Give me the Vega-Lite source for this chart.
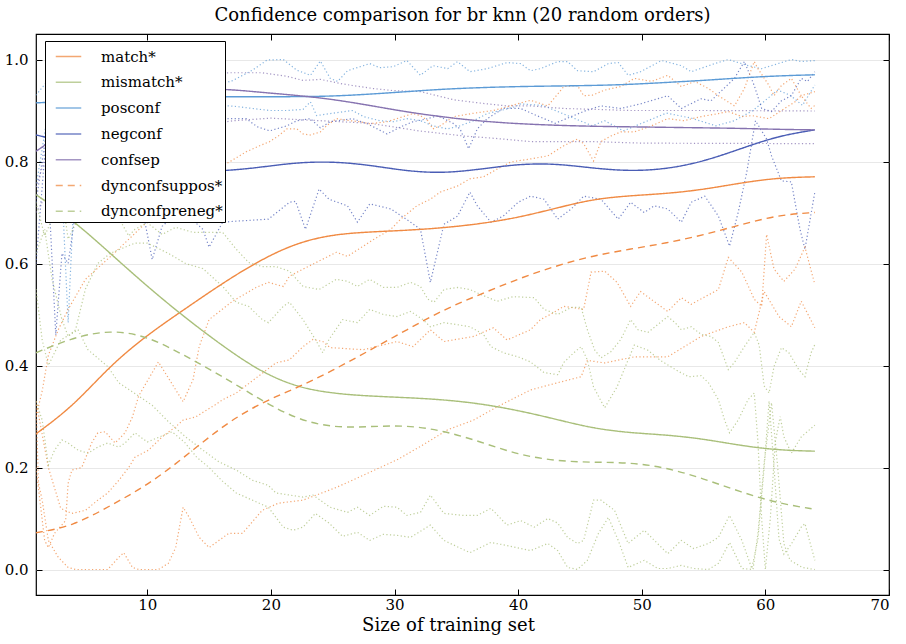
{
  "$schema": "https://vega.github.io/schema/vega-lite/v6.json",
  "width": 853,
  "height": 561,
  "autosize": {"type": "none"},
  "padding": {"left": 36, "top": 34, "right": 17, "bottom": 49},
  "background": "white",
  "title": {"text": "Confidence comparison for br knn (20 random orders)", "font": "DejaVu Serif", "fontSize": 18, "fontWeight": "normal", "color": "black", "offset": 9, "anchor": "middle"},
  "config": {
    "font": "DejaVu Serif",
    "view": {"stroke": "black", "strokeWidth": 1.2},
    "axis": {"labelFont": "DejaVu Serif", "titleFont": "DejaVu Serif", "labelColor": "black", "titleColor": "black", "tickColor": "black", "domain": false},
    "legend": {"labelFont": "DejaVu Serif"}
  },
  "datasets": {
    "main": [
      {"series":"match*","x":1,"y":0.266},{"series":"match*","x":4,"y":0.32},{"series":"match*","x":7,"y":0.4},{"series":"match*","x":10,"y":0.46},{"series":"match*","x":13,"y":0.51},{"series":"match*","x":16,"y":0.56},{"series":"match*","x":19,"y":0.605},{"series":"match*","x":22,"y":0.64},{"series":"match*","x":25,"y":0.657},{"series":"match*","x":28,"y":0.662},{"series":"match*","x":31,"y":0.665},{"series":"match*","x":34,"y":0.67},{"series":"match*","x":37,"y":0.678},{"series":"match*","x":40,"y":0.69},{"series":"match*","x":43,"y":0.708},{"series":"match*","x":46,"y":0.726},{"series":"match*","x":49,"y":0.733},{"series":"match*","x":52,"y":0.737},{"series":"match*","x":55,"y":0.745},{"series":"match*","x":58,"y":0.758},{"series":"match*","x":61,"y":0.768},{"series":"match*","x":64,"y":0.77},
      {"series":"mismatch*","x":1,"y":0.735},{"series":"mismatch*","x":4,"y":0.685},{"series":"mismatch*","x":7,"y":0.62},{"series":"mismatch*","x":10,"y":0.555},{"series":"mismatch*","x":13,"y":0.495},{"series":"mismatch*","x":16,"y":0.44},{"series":"mismatch*","x":19,"y":0.39},{"series":"mismatch*","x":22,"y":0.358},{"series":"mismatch*","x":25,"y":0.345},{"series":"mismatch*","x":28,"y":0.34},{"series":"mismatch*","x":31,"y":0.337},{"series":"mismatch*","x":34,"y":0.333},{"series":"mismatch*","x":37,"y":0.325},{"series":"mismatch*","x":40,"y":0.312},{"series":"mismatch*","x":43,"y":0.295},{"series":"mismatch*","x":46,"y":0.277},{"series":"mismatch*","x":49,"y":0.268},{"series":"mismatch*","x":52,"y":0.264},{"series":"mismatch*","x":55,"y":0.256},{"series":"mismatch*","x":58,"y":0.243},{"series":"mismatch*","x":61,"y":0.234},{"series":"mismatch*","x":64,"y":0.232},
      {"series":"posconf","x":1,"y":0.915},{"series":"posconf","x":4,"y":0.918},{"series":"posconf","x":7,"y":0.922},{"series":"posconf","x":10,"y":0.925},{"series":"posconf","x":13,"y":0.927},{"series":"posconf","x":16,"y":0.927},{"series":"posconf","x":19,"y":0.927},{"series":"posconf","x":22,"y":0.927},{"series":"posconf","x":25,"y":0.928},{"series":"posconf","x":28,"y":0.932},{"series":"posconf","x":31,"y":0.937},{"series":"posconf","x":34,"y":0.942},{"series":"posconf","x":37,"y":0.945},{"series":"posconf","x":40,"y":0.947},{"series":"posconf","x":43,"y":0.948},{"series":"posconf","x":46,"y":0.949},{"series":"posconf","x":49,"y":0.951},{"series":"posconf","x":52,"y":0.955},{"series":"posconf","x":55,"y":0.959},{"series":"posconf","x":58,"y":0.964},{"series":"posconf","x":61,"y":0.968},{"series":"posconf","x":64,"y":0.97},
      {"series":"negconf","x":1,"y":0.852},{"series":"negconf","x":4,"y":0.835},{"series":"negconf","x":7,"y":0.81},{"series":"negconf","x":10,"y":0.79},{"series":"negconf","x":13,"y":0.78},{"series":"negconf","x":16,"y":0.781},{"series":"negconf","x":19,"y":0.788},{"series":"negconf","x":22,"y":0.798},{"series":"negconf","x":25,"y":0.8},{"series":"negconf","x":28,"y":0.793},{"series":"negconf","x":31,"y":0.781},{"series":"negconf","x":34,"y":0.777},{"series":"negconf","x":37,"y":0.785},{"series":"negconf","x":40,"y":0.795},{"series":"negconf","x":43,"y":0.796},{"series":"negconf","x":46,"y":0.787},{"series":"negconf","x":49,"y":0.781},{"series":"negconf","x":52,"y":0.785},{"series":"negconf","x":55,"y":0.8},{"series":"negconf","x":58,"y":0.825},{"series":"negconf","x":61,"y":0.85},{"series":"negconf","x":64,"y":0.862},
      {"series":"confsep","x":1,"y":0.82},{"series":"confsep","x":4,"y":0.87},{"series":"confsep","x":7,"y":0.91},{"series":"confsep","x":10,"y":0.93},{"series":"confsep","x":13,"y":0.94},{"series":"confsep","x":16,"y":0.943},{"series":"confsep","x":19,"y":0.936},{"series":"confsep","x":22,"y":0.93},{"series":"confsep","x":25,"y":0.922},{"series":"confsep","x":28,"y":0.91},{"series":"confsep","x":31,"y":0.897},{"series":"confsep","x":34,"y":0.887},{"series":"confsep","x":37,"y":0.879},{"series":"confsep","x":40,"y":0.874},{"series":"confsep","x":43,"y":0.871},{"series":"confsep","x":46,"y":0.869},{"series":"confsep","x":49,"y":0.868},{"series":"confsep","x":52,"y":0.867},{"series":"confsep","x":55,"y":0.866},{"series":"confsep","x":58,"y":0.865},{"series":"confsep","x":61,"y":0.863},{"series":"confsep","x":64,"y":0.862},
      {"series":"dynconfsuppos*","x":1,"y":0.072},{"series":"dynconfsuppos*","x":4,"y":0.085},{"series":"dynconfsuppos*","x":7,"y":0.125},{"series":"dynconfsuppos*","x":10,"y":0.165},{"series":"dynconfsuppos*","x":13,"y":0.22},{"series":"dynconfsuppos*","x":16,"y":0.28},{"series":"dynconfsuppos*","x":19,"y":0.325},{"series":"dynconfsuppos*","x":22,"y":0.355},{"series":"dynconfsuppos*","x":25,"y":0.39},{"series":"dynconfsuppos*","x":28,"y":0.43},{"series":"dynconfsuppos*","x":31,"y":0.47},{"series":"dynconfsuppos*","x":34,"y":0.51},{"series":"dynconfsuppos*","x":37,"y":0.54},{"series":"dynconfsuppos*","x":40,"y":0.57},{"series":"dynconfsuppos*","x":43,"y":0.595},{"series":"dynconfsuppos*","x":46,"y":0.615},{"series":"dynconfsuppos*","x":49,"y":0.628},{"series":"dynconfsuppos*","x":52,"y":0.64},{"series":"dynconfsuppos*","x":55,"y":0.656},{"series":"dynconfsuppos*","x":58,"y":0.676},{"series":"dynconfsuppos*","x":61,"y":0.695},{"series":"dynconfsuppos*","x":64,"y":0.7},
      {"series":"dynconfpreneg*","x":1,"y":0.425},{"series":"dynconfpreneg*","x":4,"y":0.455},{"series":"dynconfpreneg*","x":7,"y":0.47},{"series":"dynconfpreneg*","x":10,"y":0.458},{"series":"dynconfpreneg*","x":13,"y":0.42},{"series":"dynconfpreneg*","x":16,"y":0.38},{"series":"dynconfpreneg*","x":19,"y":0.335},{"series":"dynconfpreneg*","x":22,"y":0.295},{"series":"dynconfpreneg*","x":25,"y":0.278},{"series":"dynconfpreneg*","x":28,"y":0.28},{"series":"dynconfpreneg*","x":31,"y":0.283},{"series":"dynconfpreneg*","x":34,"y":0.272},{"series":"dynconfpreneg*","x":37,"y":0.25},{"series":"dynconfpreneg*","x":40,"y":0.225},{"series":"dynconfpreneg*","x":43,"y":0.213},{"series":"dynconfpreneg*","x":46,"y":0.21},{"series":"dynconfpreneg*","x":49,"y":0.21},{"series":"dynconfpreneg*","x":52,"y":0.2},{"series":"dynconfpreneg*","x":55,"y":0.178},{"series":"dynconfpreneg*","x":58,"y":0.152},{"series":"dynconfpreneg*","x":61,"y":0.13},{"series":"dynconfpreneg*","x":64,"y":0.118}
    ],
    "dots": [
      {"series":"posconf","line":"pmax","x":1,"y":0.93},{"series":"posconf","line":"pmax","x":2,"y":0.96},{"series":"posconf","line":"pmax","x":4,"y":0.98},{"series":"posconf","line":"pmax","x":7,"y":0.97},{"series":"posconf","line":"pmax","x":10,"y":0.99},{"series":"posconf","line":"pmax","x":13,"y":0.97},{"series":"posconf","line":"pmax","x":16.7,"y":0.956},{"series":"posconf","line":"pmax","x":18.5,"y":0.979},{"series":"posconf","line":"pmax","x":19.7,"y":0.999},{"series":"posconf","line":"pmax","x":21,"y":1.0},{"series":"posconf","line":"pmax","x":22.1,"y":0.979},{"series":"posconf","line":"pmax","x":23.2,"y":0.969},{"series":"posconf","line":"pmax","x":24,"y":0.997},{"series":"posconf","line":"pmax","x":24.8,"y":0.963},{"series":"posconf","line":"pmax","x":25.4,"y":0.957},{"series":"posconf","line":"pmax","x":26.2,"y":0.978},{"series":"posconf","line":"pmax","x":28,"y":0.992},{"series":"posconf","line":"pmax","x":28.8,"y":0.984},{"series":"posconf","line":"pmax","x":29.9,"y":0.986},{"series":"posconf","line":"pmax","x":31,"y":0.998},{"series":"posconf","line":"pmax","x":32.1,"y":0.969},{"series":"posconf","line":"pmax","x":33.1,"y":0.988},{"series":"posconf","line":"pmax","x":34.3,"y":0.982},{"series":"posconf","line":"pmax","x":35.1,"y":0.996},{"series":"posconf","line":"pmax","x":36.1,"y":0.976},{"series":"posconf","line":"pmax","x":37.5,"y":0.982},{"series":"posconf","line":"pmax","x":39.1,"y":0.994},{"series":"posconf","line":"pmax","x":40.2,"y":0.992},{"series":"posconf","line":"pmax","x":41,"y":0.978},{"series":"posconf","line":"pmax","x":41.8,"y":0.982},{"series":"posconf","line":"pmax","x":43.2,"y":0.996},{"series":"posconf","line":"pmax","x":44,"y":0.996},{"series":"posconf","line":"pmax","x":44.8,"y":0.978},{"series":"posconf","line":"pmax","x":46.1,"y":0.976},{"series":"posconf","line":"pmax","x":47.3,"y":0.992},{"series":"posconf","line":"pmax","x":48.1,"y":0.994},{"series":"posconf","line":"pmax","x":48.9,"y":0.969},{"series":"posconf","line":"pmax","x":49.9,"y":0.976},{"series":"posconf","line":"pmax","x":51.6,"y":0.998},{"series":"posconf","line":"pmax","x":53.2,"y":0.988},{"series":"posconf","line":"pmax","x":54,"y":0.976},{"series":"posconf","line":"pmax","x":55.9,"y":0.992},{"series":"posconf","line":"pmax","x":57,"y":1.0},{"series":"posconf","line":"pmax","x":58.6,"y":0.988},{"series":"posconf","line":"pmax","x":59.7,"y":0.982},{"series":"posconf","line":"pmax","x":62.1,"y":1.0},{"series":"posconf","line":"pmax","x":62.9,"y":0.996},{"series":"posconf","line":"pmax","x":64,"y":0.998},
      {"series":"posconf","line":"pmin","x":1,"y":0.75},{"series":"posconf","line":"pmin","x":2,"y":0.9},{"series":"posconf","line":"pmin","x":3,"y":0.8},{"series":"posconf","line":"pmin","x":3.6,"y":0.484},{"series":"posconf","line":"pmin","x":4.2,"y":0.8},{"series":"posconf","line":"pmin","x":5,"y":0.9},{"series":"posconf","line":"pmin","x":7,"y":0.91},{"series":"posconf","line":"pmin","x":10,"y":0.9},{"series":"posconf","line":"pmin","x":13,"y":0.91},{"series":"posconf","line":"pmin","x":16.7,"y":0.909},{"series":"posconf","line":"pmin","x":17.5,"y":0.907},{"series":"posconf","line":"pmin","x":18.5,"y":0.904},{"series":"posconf","line":"pmin","x":19.9,"y":0.9},{"series":"posconf","line":"pmin","x":21.3,"y":0.9},{"series":"posconf","line":"pmin","x":22.6,"y":0.902},{"series":"posconf","line":"pmin","x":23.2,"y":0.917},{"series":"posconf","line":"pmin","x":23.7,"y":0.89},{"series":"posconf","line":"pmin","x":24.8,"y":0.894},{"series":"posconf","line":"pmin","x":26.6,"y":0.9},{"series":"posconf","line":"pmin","x":27.5,"y":0.888},{"series":"posconf","line":"pmin","x":28.8,"y":0.88},{"series":"posconf","line":"pmin","x":29.9,"y":0.878},{"series":"posconf","line":"pmin","x":31,"y":0.884},{"series":"posconf","line":"pmin","x":32.1,"y":0.88},{"series":"posconf","line":"pmin","x":33.1,"y":0.87},{"series":"posconf","line":"pmin","x":34.3,"y":0.864},{"series":"posconf","line":"pmin","x":35.3,"y":0.87},{"series":"posconf","line":"pmin","x":36.4,"y":0.88},{"series":"posconf","line":"pmin","x":37.5,"y":0.894},{"series":"posconf","line":"pmin","x":38.6,"y":0.9},{"series":"posconf","line":"pmin","x":39.7,"y":0.907},{"series":"posconf","line":"pmin","x":40.2,"y":0.913},{"series":"posconf","line":"pmin","x":42,"y":0.91},{"series":"posconf","line":"pmin","x":44,"y":0.89},{"series":"posconf","line":"pmin","x":46,"y":0.87},{"series":"posconf","line":"pmin","x":47,"y":0.88},{"series":"posconf","line":"pmin","x":48.5,"y":0.86},{"series":"posconf","line":"pmin","x":50,"y":0.875},{"series":"posconf","line":"pmin","x":52,"y":0.895},{"series":"posconf","line":"pmin","x":54,"y":0.885},{"series":"posconf","line":"pmin","x":56,"y":0.87},{"series":"posconf","line":"pmin","x":57.5,"y":0.88},{"series":"posconf","line":"pmin","x":59,"y":0.9},{"series":"posconf","line":"pmin","x":60,"y":0.92},{"series":"posconf","line":"pmin","x":61,"y":0.94},{"series":"posconf","line":"pmin","x":62,"y":0.93},{"series":"posconf","line":"pmin","x":63,"y":0.91},{"series":"posconf","line":"pmin","x":64,"y":0.95},
      {"series":"negconf","line":"nmax","x":1,"y":0.6},{"series":"negconf","line":"nmax","x":2,"y":0.9},{"series":"negconf","line":"nmax","x":3,"y":0.95},{"series":"negconf","line":"nmax","x":5,"y":0.9},{"series":"negconf","line":"nmax","x":8,"y":0.89},{"series":"negconf","line":"nmax","x":12,"y":0.88},{"series":"negconf","line":"nmax","x":16.7,"y":0.884},{"series":"negconf","line":"nmax","x":18,"y":0.884},{"series":"negconf","line":"nmax","x":18.9,"y":0.868},{"series":"negconf","line":"nmax","x":19.9,"y":0.86},{"series":"negconf","line":"nmax","x":21.3,"y":0.87},{"series":"negconf","line":"nmax","x":22.1,"y":0.88},{"series":"negconf","line":"nmax","x":23.2,"y":0.884},{"series":"negconf","line":"nmax","x":24,"y":0.866},{"series":"negconf","line":"nmax","x":24.8,"y":0.878},{"series":"negconf","line":"nmax","x":26.6,"y":0.884},{"series":"negconf","line":"nmax","x":27.8,"y":0.874},{"series":"negconf","line":"nmax","x":28.6,"y":0.864},{"series":"negconf","line":"nmax","x":29.4,"y":0.854},{"series":"negconf","line":"nmax","x":30.5,"y":0.868},{"series":"negconf","line":"nmax","x":31.5,"y":0.878},{"series":"negconf","line":"nmax","x":32.7,"y":0.884},{"series":"negconf","line":"nmax","x":33.5,"y":0.89},{"series":"negconf","line":"nmax","x":34.8,"y":0.874},{"series":"negconf","line":"nmax","x":35.3,"y":0.864},{"series":"negconf","line":"nmax","x":36,"y":0.825},{"series":"negconf","line":"nmax","x":36.7,"y":0.864},{"series":"negconf","line":"nmax","x":37.5,"y":0.884},{"series":"negconf","line":"nmax","x":38.8,"y":0.904},{"series":"negconf","line":"nmax","x":40.2,"y":0.904},{"series":"negconf","line":"nmax","x":41.5,"y":0.89},{"series":"negconf","line":"nmax","x":43,"y":0.875},{"series":"negconf","line":"nmax","x":44.5,"y":0.89},{"series":"negconf","line":"nmax","x":45.5,"y":0.9},{"series":"negconf","line":"nmax","x":46.7,"y":0.909},{"series":"negconf","line":"nmax","x":48.3,"y":0.904},{"series":"negconf","line":"nmax","x":49.9,"y":0.913},{"series":"negconf","line":"nmax","x":52.1,"y":0.929},{"series":"negconf","line":"nmax","x":53.2,"y":0.904},{"series":"negconf","line":"nmax","x":54.8,"y":0.923},{"series":"negconf","line":"nmax","x":55.6,"y":0.919},{"series":"negconf","line":"nmax","x":56.2,"y":0.933},{"series":"negconf","line":"nmax","x":57.5,"y":0.963},{"series":"negconf","line":"nmax","x":58.3,"y":0.996},{"series":"negconf","line":"nmax","x":59.1,"y":0.949},{"series":"negconf","line":"nmax","x":59.7,"y":0.904},{"series":"negconf","line":"nmax","x":60.5,"y":0.898},{"series":"negconf","line":"nmax","x":61.3,"y":0.919},{"series":"negconf","line":"nmax","x":62.1,"y":0.929},{"series":"negconf","line":"nmax","x":62.9,"y":0.963},{"series":"negconf","line":"nmax","x":63.4,"y":0.957},{"series":"negconf","line":"nmax","x":64,"y":0.976},
      {"series":"negconf","line":"nmin","x":1,"y":0.72},{"series":"negconf","line":"nmin","x":1.8,"y":0.85},{"series":"negconf","line":"nmin","x":2.6,"y":0.46},{"series":"negconf","line":"nmin","x":3.1,"y":0.62},{"series":"negconf","line":"nmin","x":3.6,"y":0.6},{"series":"negconf","line":"nmin","x":4.2,"y":0.7},{"series":"negconf","line":"nmin","x":5,"y":0.8},{"series":"negconf","line":"nmin","x":6,"y":0.78},{"series":"negconf","line":"nmin","x":8,"y":0.76},{"series":"negconf","line":"nmin","x":9.5,"y":0.72},{"series":"negconf","line":"nmin","x":10.4,"y":0.608},{"series":"negconf","line":"nmin","x":11.2,"y":0.673},{"series":"negconf","line":"nmin","x":12,"y":0.69},{"series":"negconf","line":"nmin","x":13,"y":0.7},{"series":"negconf","line":"nmin","x":14.5,"y":0.667},{"series":"negconf","line":"nmin","x":15,"y":0.632},{"series":"negconf","line":"nmin","x":16.1,"y":0.681},{"series":"negconf","line":"nmin","x":17.2,"y":0.683},{"series":"negconf","line":"nmin","x":19.8,"y":0.687},{"series":"negconf","line":"nmin","x":21.5,"y":0.72},{"series":"negconf","line":"nmin","x":22,"y":0.722},{"series":"negconf","line":"nmin","x":22.8,"y":0.667},{"series":"negconf","line":"nmin","x":23.9,"y":0.746},{"series":"negconf","line":"nmin","x":24.7,"y":0.726},{"series":"negconf","line":"nmin","x":26.2,"y":0.713},{"series":"negconf","line":"nmin","x":27,"y":0.681},{"series":"negconf","line":"nmin","x":28,"y":0.717},{"series":"negconf","line":"nmin","x":29.7,"y":0.707},{"series":"negconf","line":"nmin","x":31.3,"y":0.681},{"series":"negconf","line":"nmin","x":32.1,"y":0.667},{"series":"negconf","line":"nmin","x":32.9,"y":0.563},{"series":"negconf","line":"nmin","x":34,"y":0.677},{"series":"negconf","line":"nmin","x":35.1,"y":0.693},{"series":"negconf","line":"nmin","x":36.1,"y":0.74},{"series":"negconf","line":"nmin","x":36.7,"y":0.713},{"series":"negconf","line":"nmin","x":37.8,"y":0.681},{"series":"negconf","line":"nmin","x":38.8,"y":0.693},{"series":"negconf","line":"nmin","x":40,"y":0.72},{"series":"negconf","line":"nmin","x":41,"y":0.732},{"series":"negconf","line":"nmin","x":42.1,"y":0.726},{"series":"negconf","line":"nmin","x":43.2,"y":0.687},{"series":"negconf","line":"nmin","x":44.3,"y":0.707},{"series":"negconf","line":"nmin","x":45.3,"y":0.732},{"series":"negconf","line":"nmin","x":46.7,"y":0.726},{"series":"negconf","line":"nmin","x":48.1,"y":0.687},{"series":"negconf","line":"nmin","x":49.1,"y":0.72},{"series":"negconf","line":"nmin","x":50.2,"y":0.7},{"series":"negconf","line":"nmin","x":51,"y":0.713},{"series":"negconf","line":"nmin","x":52.1,"y":0.707},{"series":"negconf","line":"nmin","x":53.2,"y":0.681},{"series":"negconf","line":"nmin","x":54,"y":0.72},{"series":"negconf","line":"nmin","x":55.1,"y":0.732},{"series":"negconf","line":"nmin","x":56.2,"y":0.693},{"series":"negconf","line":"nmin","x":57.1,"y":0.634},{"series":"negconf","line":"nmin","x":57.8,"y":0.7},{"series":"negconf","line":"nmin","x":58.5,"y":0.78},{"series":"negconf","line":"nmin","x":59.2,"y":0.88},{"series":"negconf","line":"nmin","x":60.1,"y":0.844},{"series":"negconf","line":"nmin","x":60.5,"y":0.811},{"series":"negconf","line":"nmin","x":61.3,"y":0.762},{"series":"negconf","line":"nmin","x":62.1,"y":0.76},{"series":"negconf","line":"nmin","x":62.4,"y":0.72},{"series":"negconf","line":"nmin","x":62.8,"y":0.667},{"series":"negconf","line":"nmin","x":63.2,"y":0.628},{"series":"negconf","line":"nmin","x":64,"y":0.74},
      {"series":"confsep","line":"cmax","x":1,"y":0.75},{"series":"confsep","line":"cmax","x":3,"y":0.9},{"series":"confsep","line":"cmax","x":6,"y":0.95},{"series":"confsep","line":"cmax","x":10,"y":0.97},{"series":"confsep","line":"cmax","x":16.7,"y":0.974},{"series":"confsep","line":"cmax","x":19.3,"y":0.974},{"series":"confsep","line":"cmax","x":21.3,"y":0.967},{"series":"confsep","line":"cmax","x":22.6,"y":0.959},{"series":"confsep","line":"cmax","x":24,"y":0.961},{"series":"confsep","line":"cmax","x":25.6,"y":0.953},{"series":"confsep","line":"cmax","x":26.6,"y":0.949},{"series":"confsep","line":"cmax","x":28.3,"y":0.943},{"series":"confsep","line":"cmax","x":29.9,"y":0.939},{"series":"confsep","line":"cmax","x":32.1,"y":0.937},{"series":"confsep","line":"cmax","x":34.8,"y":0.921},{"series":"confsep","line":"cmax","x":36.1,"y":0.917},{"series":"confsep","line":"cmax","x":37.5,"y":0.913},{"series":"confsep","line":"cmax","x":39.1,"y":0.909},{"series":"confsep","line":"cmax","x":41,"y":0.909},{"series":"confsep","line":"cmax","x":43.7,"y":0.904},{"series":"confsep","line":"cmax","x":46.5,"y":0.902},{"series":"confsep","line":"cmax","x":49.1,"y":0.9},{"series":"confsep","line":"cmax","x":55,"y":0.9},{"series":"confsep","line":"cmax","x":64,"y":0.899},
      {"series":"confsep","line":"cmin","x":1,"y":0.7},{"series":"confsep","line":"cmin","x":3,"y":0.78},{"series":"confsep","line":"cmin","x":6,"y":0.82},{"series":"confsep","line":"cmin","x":10,"y":0.85},{"series":"confsep","line":"cmin","x":14,"y":0.87},{"series":"confsep","line":"cmin","x":17,"y":0.88},{"series":"confsep","line":"cmin","x":20,"y":0.885},{"series":"confsep","line":"cmin","x":24,"y":0.88},{"series":"confsep","line":"cmin","x":28,"y":0.875},{"series":"confsep","line":"cmin","x":32,"y":0.86},{"series":"confsep","line":"cmin","x":35.6,"y":0.85},{"series":"confsep","line":"cmin","x":38.3,"y":0.845},{"series":"confsep","line":"cmin","x":41,"y":0.839},{"series":"confsep","line":"cmin","x":46,"y":0.839},{"series":"confsep","line":"cmin","x":50,"y":0.836},{"series":"confsep","line":"cmin","x":64,"y":0.835},
      {"series":"match*","line":"o1","x":1,"y":0.3},{"series":"match*","line":"o1","x":1.5,"y":0.35},{"series":"match*","line":"o1","x":2,"y":0.42},{"series":"match*","line":"o1","x":2.8,"y":0.47},{"series":"match*","line":"o1","x":3.6,"y":0.51},{"series":"match*","line":"o1","x":5,"y":0.569},{"series":"match*","line":"o1","x":7.4,"y":0.622},{"series":"match*","line":"o1","x":9.6,"y":0.673},{"series":"match*","line":"o1","x":12,"y":0.72},{"series":"match*","line":"o1","x":14,"y":0.76},{"series":"match*","line":"o1","x":16.7,"y":0.8},{"series":"match*","line":"o1","x":18,"y":0.819},{"series":"match*","line":"o1","x":19.1,"y":0.831},{"series":"match*","line":"o1","x":19.9,"y":0.839},{"series":"match*","line":"o1","x":20.6,"y":0.85},{"series":"match*","line":"o1","x":21.3,"y":0.864},{"series":"match*","line":"o1","x":22.1,"y":0.864},{"series":"match*","line":"o1","x":22.6,"y":0.854},{"series":"match*","line":"o1","x":23.2,"y":0.852},{"series":"match*","line":"o1","x":24,"y":0.858},{"series":"match*","line":"o1","x":24.5,"y":0.87},{"series":"match*","line":"o1","x":25.3,"y":0.884},{"series":"match*","line":"o1","x":26.4,"y":0.88},{"series":"match*","line":"o1","x":27.2,"y":0.878},{"series":"match*","line":"o1","x":28,"y":0.874},{"series":"match*","line":"o1","x":29.4,"y":0.878},{"series":"match*","line":"o1","x":30.7,"y":0.888},{"series":"match*","line":"o1","x":31.5,"y":0.894},{"series":"match*","line":"o1","x":32.1,"y":0.89},{"series":"match*","line":"o1","x":32.7,"y":0.88},{"series":"match*","line":"o1","x":33.1,"y":0.864},{"series":"match*","line":"o1","x":33.7,"y":0.87},{"series":"match*","line":"o1","x":34.3,"y":0.88},{"series":"match*","line":"o1","x":34.8,"y":0.888},{"series":"match*","line":"o1","x":36.5,"y":0.895},{"series":"match*","line":"o1","x":38,"y":0.9},{"series":"match*","line":"o1","x":39.5,"y":0.91},{"series":"match*","line":"o1","x":41,"y":0.92},{"series":"match*","line":"o1","x":42.4,"y":0.909},{"series":"match*","line":"o1","x":43.7,"y":0.947},{"series":"match*","line":"o1","x":44.8,"y":0.949},{"series":"match*","line":"o1","x":45.3,"y":0.929},{"series":"match*","line":"o1","x":46,"y":0.93},{"series":"match*","line":"o1","x":47,"y":0.94},{"series":"match*","line":"o1","x":48.3,"y":0.947},{"series":"match*","line":"o1","x":49.4,"y":0.963},{"series":"match*","line":"o1","x":50.8,"y":0.957},{"series":"match*","line":"o1","x":52.1,"y":0.969},{"series":"match*","line":"o1","x":53.2,"y":0.947},{"series":"match*","line":"o1","x":54.3,"y":0.957},{"series":"match*","line":"o1","x":55.4,"y":0.943},{"series":"match*","line":"o1","x":56.2,"y":0.929},{"series":"match*","line":"o1","x":57.5,"y":0.909},{"series":"match*","line":"o1","x":58.3,"y":0.943},{"series":"match*","line":"o1","x":59.1,"y":0.996},{"series":"match*","line":"o1","x":59.4,"y":0.982},{"series":"match*","line":"o1","x":60.3,"y":0.949},{"series":"match*","line":"o1","x":60.7,"y":0.929},{"series":"match*","line":"o1","x":61.3,"y":0.949},{"series":"match*","line":"o1","x":62.1,"y":0.963},{"series":"match*","line":"o1","x":62.9,"y":0.929},{"series":"match*","line":"o1","x":64,"y":0.937},
      {"series":"dynconfsuppos*","line":"o2","x":1,"y":0.2},{"series":"dynconfsuppos*","line":"o2","x":1.7,"y":0.057},{"series":"dynconfsuppos*","line":"o2","x":2,"y":0.043},{"series":"dynconfsuppos*","line":"o2","x":2.5,"y":0.071},{"series":"dynconfsuppos*","line":"o2","x":3.4,"y":0.096},{"series":"dynconfsuppos*","line":"o2","x":3.6,"y":0.169},{"series":"dynconfsuppos*","line":"o2","x":3.9,"y":0.195},{"series":"dynconfsuppos*","line":"o2","x":4.7,"y":0.2},{"series":"dynconfsuppos*","line":"o2","x":5.5,"y":0.248},{"series":"dynconfsuppos*","line":"o2","x":6,"y":0.268},{"series":"dynconfsuppos*","line":"o2","x":6.6,"y":0.27},{"series":"dynconfsuppos*","line":"o2","x":7.4,"y":0.248},{"series":"dynconfsuppos*","line":"o2","x":8.2,"y":0.268},{"series":"dynconfsuppos*","line":"o2","x":8.8,"y":0.299},{"series":"dynconfsuppos*","line":"o2","x":9.3,"y":0.34},{"series":"dynconfsuppos*","line":"o2","x":10.9,"y":0.407},{"series":"dynconfsuppos*","line":"o2","x":12.9,"y":0.329},{"series":"dynconfsuppos*","line":"o2","x":13.7,"y":0.372},{"series":"dynconfsuppos*","line":"o2","x":14.2,"y":0.437},{"series":"dynconfsuppos*","line":"o2","x":15,"y":0.49},{"series":"dynconfsuppos*","line":"o2","x":16.9,"y":0.526},{"series":"dynconfsuppos*","line":"o2","x":18.8,"y":0.553},{"series":"dynconfsuppos*","line":"o2","x":19.8,"y":0.563},{"series":"dynconfsuppos*","line":"o2","x":21,"y":0.555},{"series":"dynconfsuppos*","line":"o2","x":21.5,"y":0.575},{"series":"dynconfsuppos*","line":"o2","x":22.6,"y":0.589},{"series":"dynconfsuppos*","line":"o2","x":25.3,"y":0.622},{"series":"dynconfsuppos*","line":"o2","x":26.2,"y":0.614},{"series":"dynconfsuppos*","line":"o2","x":28.3,"y":0.647},{"series":"dynconfsuppos*","line":"o2","x":29.7,"y":0.667},{"series":"dynconfsuppos*","line":"o2","x":30.5,"y":0.687},{"series":"dynconfsuppos*","line":"o2","x":31.8,"y":0.713},{"series":"dynconfsuppos*","line":"o2","x":32.9,"y":0.726},{"series":"dynconfsuppos*","line":"o2","x":33.7,"y":0.74},{"series":"dynconfsuppos*","line":"o2","x":35.1,"y":0.752},{"series":"dynconfsuppos*","line":"o2","x":36.1,"y":0.766},{"series":"dynconfsuppos*","line":"o2","x":37.2,"y":0.77},{"series":"dynconfsuppos*","line":"o2","x":38.3,"y":0.785},{"series":"dynconfsuppos*","line":"o2","x":39.4,"y":0.799},{"series":"dynconfsuppos*","line":"o2","x":41,"y":0.805},{"series":"dynconfsuppos*","line":"o2","x":42.4,"y":0.811},{"series":"dynconfsuppos*","line":"o2","x":43.7,"y":0.831},{"series":"dynconfsuppos*","line":"o2","x":44.8,"y":0.844},{"series":"dynconfsuppos*","line":"o2","x":45.3,"y":0.835},{"series":"dynconfsuppos*","line":"o2","x":46.1,"y":0.801},{"series":"dynconfsuppos*","line":"o2","x":46.7,"y":0.839},{"series":"dynconfsuppos*","line":"o2","x":47.5,"y":0.85},{"series":"dynconfsuppos*","line":"o2","x":48.3,"y":0.858},{"series":"dynconfsuppos*","line":"o2","x":49.4,"y":0.858},{"series":"dynconfsuppos*","line":"o2","x":50.8,"y":0.87},{"series":"dynconfsuppos*","line":"o2","x":52.1,"y":0.884},{"series":"dynconfsuppos*","line":"o2","x":53.4,"y":0.88},{"series":"dynconfsuppos*","line":"o2","x":54.8,"y":0.888},{"series":"dynconfsuppos*","line":"o2","x":56.2,"y":0.894},{"series":"dynconfsuppos*","line":"o2","x":57,"y":0.898},{"series":"dynconfsuppos*","line":"o2","x":58.1,"y":0.888},{"series":"dynconfsuppos*","line":"o2","x":58.9,"y":0.89},{"series":"dynconfsuppos*","line":"o2","x":60.3,"y":0.884},{"series":"dynconfsuppos*","line":"o2","x":61.3,"y":0.9},{"series":"dynconfsuppos*","line":"o2","x":62.4,"y":0.917},{"series":"dynconfsuppos*","line":"o2","x":62.9,"y":0.929},{"series":"dynconfsuppos*","line":"o2","x":63.7,"y":0.904},{"series":"dynconfsuppos*","line":"o2","x":64,"y":0.91},
      {"series":"match*","line":"o3","x":1,"y":0.33},{"series":"match*","line":"o3","x":2,"y":0.2},{"series":"match*","line":"o3","x":3,"y":0.12},{"series":"match*","line":"o3","x":3.9,"y":0.11},{"series":"match*","line":"o3","x":5,"y":0.116},{"series":"match*","line":"o3","x":6,"y":0.136},{"series":"match*","line":"o3","x":6.8,"y":0.15},{"series":"match*","line":"o3","x":7.7,"y":0.175},{"series":"match*","line":"o3","x":8.5,"y":0.2},{"series":"match*","line":"o3","x":9,"y":0.22},{"series":"match*","line":"o3","x":10.1,"y":0.234},{"series":"match*","line":"o3","x":11.2,"y":0.26},{"series":"match*","line":"o3","x":12.3,"y":0.28},{"series":"match*","line":"o3","x":12.9,"y":0.293},{"series":"match*","line":"o3","x":13.9,"y":0.299},{"series":"match*","line":"o3","x":15.5,"y":0.323},{"series":"match*","line":"o3","x":16.1,"y":0.333},{"series":"match*","line":"o3","x":17.2,"y":0.346},{"series":"match*","line":"o3","x":18.5,"y":0.37},{"series":"match*","line":"o3","x":20.4,"y":0.405},{"series":"match*","line":"o3","x":21.5,"y":0.411},{"series":"match*","line":"o3","x":22.6,"y":0.437},{"series":"match*","line":"o3","x":23.4,"y":0.451},{"series":"match*","line":"o3","x":24.2,"y":0.447},{"series":"match*","line":"o3","x":24.8,"y":0.435},{"series":"match*","line":"o3","x":27.5,"y":0.431},{"series":"match*","line":"o3","x":30.2,"y":0.447},{"series":"match*","line":"o3","x":31.5,"y":0.437},{"series":"match*","line":"o3","x":32.9,"y":0.47},{"series":"match*","line":"o3","x":34,"y":0.447},{"series":"match*","line":"o3","x":36.4,"y":0.457},{"series":"match*","line":"o3","x":38,"y":0.474},{"series":"match*","line":"o3","x":39.1,"y":0.45},{"series":"match*","line":"o3","x":41,"y":0.47},{"series":"match*","line":"o3","x":41.8,"y":0.49},{"series":"match*","line":"o3","x":42.6,"y":0.5},{"series":"match*","line":"o3","x":43.7,"y":0.516},{"series":"match*","line":"o3","x":45.3,"y":0.51},{"series":"match*","line":"o3","x":45.9,"y":0.583},{"series":"match*","line":"o3","x":47,"y":0.585},{"series":"match*","line":"o3","x":48,"y":0.563},{"series":"match*","line":"o3","x":49.1,"y":0.516},{"series":"match*","line":"o3","x":49.9,"y":0.545},{"series":"match*","line":"o3","x":52.1,"y":0.506},{"series":"match*","line":"o3","x":53.2,"y":0.533},{"series":"match*","line":"o3","x":54,"y":0.52},{"series":"match*","line":"o3","x":56.2,"y":0.549},{"series":"match*","line":"o3","x":57,"y":0.612},{"series":"match*","line":"o3","x":58.1,"y":0.583},{"series":"match*","line":"o3","x":59.1,"y":0.53},{"series":"match*","line":"o3","x":59.7,"y":0.516},{"series":"match*","line":"o3","x":60.1,"y":0.657},{"series":"match*","line":"o3","x":60.7,"y":0.589},{"series":"match*","line":"o3","x":61.5,"y":0.565},{"series":"match*","line":"o3","x":62.4,"y":0.589},{"series":"match*","line":"o3","x":63.2,"y":0.632},{"series":"match*","line":"o3","x":64,"y":0.559},
      {"series":"dynconfsuppos*","line":"o4","x":1,"y":0.33},{"series":"dynconfsuppos*","line":"o4","x":1.2,"y":0.169},{"series":"dynconfsuppos*","line":"o4","x":1.5,"y":0.136},{"series":"dynconfsuppos*","line":"o4","x":2,"y":0.057},{"series":"dynconfsuppos*","line":"o4","x":2.8,"y":0.024},{"series":"dynconfsuppos*","line":"o4","x":3.6,"y":0.004},{"series":"dynconfsuppos*","line":"o4","x":4.2,"y":0},{"series":"dynconfsuppos*","line":"o4","x":6.8,"y":0},{"series":"dynconfsuppos*","line":"o4","x":7.7,"y":0.024},{"series":"dynconfsuppos*","line":"o4","x":8.1,"y":0.033},{"series":"dynconfsuppos*","line":"o4","x":8.8,"y":0.004},{"series":"dynconfsuppos*","line":"o4","x":9.3,"y":0},{"series":"dynconfsuppos*","line":"o4","x":10.9,"y":0},{"series":"dynconfsuppos*","line":"o4","x":11.7,"y":0.012},{"series":"dynconfsuppos*","line":"o4","x":12.3,"y":0.043},{"series":"dynconfsuppos*","line":"o4","x":12.9,"y":0.122},{"series":"dynconfsuppos*","line":"o4","x":13.4,"y":0.102},{"series":"dynconfsuppos*","line":"o4","x":14.2,"y":0.063},{"series":"dynconfsuppos*","line":"o4","x":15,"y":0.043},{"series":"dynconfsuppos*","line":"o4","x":16.6,"y":0.071},{"series":"dynconfsuppos*","line":"o4","x":17.7,"y":0.071},{"series":"dynconfsuppos*","line":"o4","x":19.3,"y":0.116},{"series":"dynconfsuppos*","line":"o4","x":20.6,"y":0.13},{"series":"dynconfsuppos*","line":"o4","x":22.6,"y":0.136},{"series":"dynconfsuppos*","line":"o4","x":25.3,"y":0.161},{"series":"dynconfsuppos*","line":"o4","x":27.5,"y":0.185},{"series":"dynconfsuppos*","line":"o4","x":30.2,"y":0.215},{"series":"dynconfsuppos*","line":"o4","x":32,"y":0.24},{"series":"dynconfsuppos*","line":"o4","x":34.3,"y":0.274},{"series":"dynconfsuppos*","line":"o4","x":36.4,"y":0.293},{"series":"dynconfsuppos*","line":"o4","x":38.3,"y":0.319},{"series":"dynconfsuppos*","line":"o4","x":41,"y":0.352},{"series":"dynconfsuppos*","line":"o4","x":43,"y":0.365},{"series":"dynconfsuppos*","line":"o4","x":45.1,"y":0.378},{"series":"dynconfsuppos*","line":"o4","x":45.6,"y":0.41},{"series":"dynconfsuppos*","line":"o4","x":47,"y":0.405},{"series":"dynconfsuppos*","line":"o4","x":49.4,"y":0.417},{"series":"dynconfsuppos*","line":"o4","x":52.1,"y":0.417},{"series":"dynconfsuppos*","line":"o4","x":54.8,"y":0.457},{"series":"dynconfsuppos*","line":"o4","x":57,"y":0.476},{"series":"dynconfsuppos*","line":"o4","x":58.3,"y":0.484},{"series":"dynconfsuppos*","line":"o4","x":59.1,"y":0.465},{"series":"dynconfsuppos*","line":"o4","x":59.9,"y":0.545},{"series":"dynconfsuppos*","line":"o4","x":61.1,"y":0.496},{"series":"dynconfsuppos*","line":"o4","x":62.1,"y":0.476},{"series":"dynconfsuppos*","line":"o4","x":62.9,"y":0.526},{"series":"dynconfsuppos*","line":"o4","x":64,"y":0.474},
      {"series":"mismatch*","line":"g1","x":1,"y":0.72},{"series":"mismatch*","line":"g1","x":1.7,"y":0.654},{"series":"mismatch*","line":"g1","x":2.3,"y":0.687},{"series":"mismatch*","line":"g1","x":3,"y":0.75},{"series":"mismatch*","line":"g1","x":3.6,"y":0.648},{"series":"mismatch*","line":"g1","x":4.4,"y":0.687},{"series":"mismatch*","line":"g1","x":5.5,"y":0.74},{"series":"mismatch*","line":"g1","x":7,"y":0.72},{"series":"mismatch*","line":"g1","x":8.5,"y":0.654},{"series":"mismatch*","line":"g1","x":9,"y":0.667},{"series":"mismatch*","line":"g1","x":10,"y":0.68},{"series":"mismatch*","line":"g1","x":11.2,"y":0.657},{"series":"mismatch*","line":"g1","x":12.3,"y":0.671},{"series":"mismatch*","line":"g1","x":13.7,"y":0.661},{"series":"mismatch*","line":"g1","x":16.1,"y":0.661},{"series":"mismatch*","line":"g1","x":17.2,"y":0.628},{"series":"mismatch*","line":"g1","x":18.2,"y":0.602},{"series":"mismatch*","line":"g1","x":19.3,"y":0.594},{"series":"mismatch*","line":"g1","x":20.4,"y":0.594},{"series":"mismatch*","line":"g1","x":21.5,"y":0.585},{"series":"mismatch*","line":"g1","x":22.6,"y":0.555},{"series":"mismatch*","line":"g1","x":23.9,"y":0.549},{"series":"mismatch*","line":"g1","x":25.3,"y":0.569},{"series":"mismatch*","line":"g1","x":26.2,"y":0.565},{"series":"mismatch*","line":"g1","x":27,"y":0.555},{"series":"mismatch*","line":"g1","x":28,"y":0.569},{"series":"mismatch*","line":"g1","x":29.1,"y":0.553},{"series":"mismatch*","line":"g1","x":30.2,"y":0.553},{"series":"mismatch*","line":"g1","x":31.3,"y":0.563},{"series":"mismatch*","line":"g1","x":32.1,"y":0.555},{"series":"mismatch*","line":"g1","x":32.7,"y":0.53},{"series":"mismatch*","line":"g1","x":33.2,"y":0.524},{"series":"mismatch*","line":"g1","x":34,"y":0.549},{"series":"mismatch*","line":"g1","x":35.1,"y":0.553},{"series":"mismatch*","line":"g1","x":36.1,"y":0.549},{"series":"mismatch*","line":"g1","x":37,"y":0.539},{"series":"mismatch*","line":"g1","x":38.3,"y":0.526},{"series":"mismatch*","line":"g1","x":39.6,"y":0.535},{"series":"mismatch*","line":"g1","x":41.3,"y":0.533},{"series":"mismatch*","line":"g1","x":42.1,"y":0.51},{"series":"mismatch*","line":"g1","x":43.2,"y":0.5},{"series":"mismatch*","line":"g1","x":44.3,"y":0.514},{"series":"mismatch*","line":"g1","x":45.1,"y":0.514},{"series":"mismatch*","line":"g1","x":45.6,"y":0.47},{"series":"mismatch*","line":"g1","x":46.2,"y":0.43},{"series":"mismatch*","line":"g1","x":46.7,"y":0.415},{"series":"mismatch*","line":"g1","x":47.5,"y":0.427},{"series":"mismatch*","line":"g1","x":48.3,"y":0.451},{"series":"mismatch*","line":"g1","x":49.1,"y":0.49},{"series":"mismatch*","line":"g1","x":49.7,"y":0.47},{"series":"mismatch*","line":"g1","x":50.5,"y":0.465},{"series":"mismatch*","line":"g1","x":52.1,"y":0.496},{"series":"mismatch*","line":"g1","x":52.7,"y":0.484},{"series":"mismatch*","line":"g1","x":53.2,"y":0.47},{"series":"mismatch*","line":"g1","x":54,"y":0.476},{"series":"mismatch*","line":"g1","x":54.8,"y":0.461},{"series":"mismatch*","line":"g1","x":55.6,"y":0.457},{"series":"mismatch*","line":"g1","x":56.2,"y":0.445},{"series":"mismatch*","line":"g1","x":57,"y":0.392},{"series":"mismatch*","line":"g1","x":57.5,"y":0.406},{"series":"mismatch*","line":"g1","x":58.3,"y":0.437},{"series":"mismatch*","line":"g1","x":59.1,"y":0.465},{"series":"mismatch*","line":"g1","x":59.5,"y":0.44},{"series":"mismatch*","line":"g1","x":59.9,"y":0.36},{"series":"mismatch*","line":"g1","x":60.3,"y":0.346},{"series":"mismatch*","line":"g1","x":60.7,"y":0.398},{"series":"mismatch*","line":"g1","x":61.3,"y":0.435},{"series":"mismatch*","line":"g1","x":61.9,"y":0.425},{"series":"mismatch*","line":"g1","x":62.7,"y":0.392},{"series":"mismatch*","line":"g1","x":63.2,"y":0.378},{"series":"mismatch*","line":"g1","x":63.7,"y":0.425},{"series":"mismatch*","line":"g1","x":64,"y":0.441},
      {"series":"dynconfpreneg*","line":"g2","x":1,"y":0.62},{"series":"dynconfpreneg*","line":"g2","x":1.7,"y":0.667},{"series":"dynconfpreneg*","line":"g2","x":2.3,"y":0.569},{"series":"dynconfpreneg*","line":"g2","x":3.1,"y":0.49},{"series":"dynconfpreneg*","line":"g2","x":3.6,"y":0.457},{"series":"dynconfpreneg*","line":"g2","x":4.2,"y":0.47},{"series":"dynconfpreneg*","line":"g2","x":5,"y":0.55},{"series":"dynconfpreneg*","line":"g2","x":6,"y":0.6},{"series":"dynconfpreneg*","line":"g2","x":7,"y":0.62},{"series":"dynconfpreneg*","line":"g2","x":8,"y":0.63},{"series":"dynconfpreneg*","line":"g2","x":9,"y":0.64},{"series":"dynconfpreneg*","line":"g2","x":10,"y":0.64},{"series":"dynconfpreneg*","line":"g2","x":11.7,"y":0.62},{"series":"dynconfpreneg*","line":"g2","x":13.1,"y":0.6},{"series":"dynconfpreneg*","line":"g2","x":14.5,"y":0.59},{"series":"dynconfpreneg*","line":"g2","x":16.1,"y":0.555},{"series":"dynconfpreneg*","line":"g2","x":17.2,"y":0.524},{"series":"dynconfpreneg*","line":"g2","x":18.2,"y":0.516},{"series":"dynconfpreneg*","line":"g2","x":19.3,"y":0.49},{"series":"dynconfpreneg*","line":"g2","x":19.8,"y":0.484},{"series":"dynconfpreneg*","line":"g2","x":21,"y":0.516},{"series":"dynconfpreneg*","line":"g2","x":21.5,"y":0.524},{"series":"dynconfpreneg*","line":"g2","x":22.6,"y":0.49},{"series":"dynconfpreneg*","line":"g2","x":23.6,"y":0.451},{"series":"dynconfpreneg*","line":"g2","x":24.2,"y":0.425},{"series":"dynconfpreneg*","line":"g2","x":24.7,"y":0.451},{"series":"dynconfpreneg*","line":"g2","x":25.8,"y":0.49},{"series":"dynconfpreneg*","line":"g2","x":27,"y":0.484},{"series":"dynconfpreneg*","line":"g2","x":28,"y":0.51},{"series":"dynconfpreneg*","line":"g2","x":29.1,"y":0.5},{"series":"dynconfpreneg*","line":"g2","x":30.2,"y":0.496},{"series":"dynconfpreneg*","line":"g2","x":31.3,"y":0.506},{"series":"dynconfpreneg*","line":"g2","x":32.3,"y":0.49},{"series":"dynconfpreneg*","line":"g2","x":32.9,"y":0.476},{"series":"dynconfpreneg*","line":"g2","x":34,"y":0.484},{"series":"dynconfpreneg*","line":"g2","x":35.1,"y":0.48},{"series":"dynconfpreneg*","line":"g2","x":36.1,"y":0.476},{"series":"dynconfpreneg*","line":"g2","x":37.2,"y":0.461},{"series":"dynconfpreneg*","line":"g2","x":37.8,"y":0.437},{"series":"dynconfpreneg*","line":"g2","x":38.8,"y":0.425},{"series":"dynconfpreneg*","line":"g2","x":40,"y":0.417},{"series":"dynconfpreneg*","line":"g2","x":41,"y":0.407},{"series":"dynconfpreneg*","line":"g2","x":42.1,"y":0.386},{"series":"dynconfpreneg*","line":"g2","x":43.2,"y":0.382},{"series":"dynconfpreneg*","line":"g2","x":43.7,"y":0.406},{"series":"dynconfpreneg*","line":"g2","x":44.5,"y":0.425},{"series":"dynconfpreneg*","line":"g2","x":45.1,"y":0.437},{"series":"dynconfpreneg*","line":"g2","x":45.6,"y":0.411},{"series":"dynconfpreneg*","line":"g2","x":46.1,"y":0.358},{"series":"dynconfpreneg*","line":"g2","x":47,"y":0.317},{"series":"dynconfpreneg*","line":"g2","x":48,"y":0.358},{"series":"dynconfpreneg*","line":"g2","x":48.9,"y":0.411},{"series":"dynconfpreneg*","line":"g2","x":49.4,"y":0.44},{"series":"dynconfpreneg*","line":"g2","x":50.5,"y":0.43},{"series":"dynconfpreneg*","line":"g2","x":51.5,"y":0.41},{"series":"dynconfpreneg*","line":"g2","x":53,"y":0.388},{"series":"dynconfpreneg*","line":"g2","x":53.8,"y":0.378},{"series":"dynconfpreneg*","line":"g2","x":54.8,"y":0.38},{"series":"dynconfpreneg*","line":"g2","x":55.4,"y":0.366},{"series":"dynconfpreneg*","line":"g2","x":56.2,"y":0.333},{"series":"dynconfpreneg*","line":"g2","x":56.7,"y":0.293},{"series":"dynconfpreneg*","line":"g2","x":57.1,"y":0.268},{"series":"dynconfpreneg*","line":"g2","x":57.8,"y":0.293},{"series":"dynconfpreneg*","line":"g2","x":58.6,"y":0.333},{"series":"dynconfpreneg*","line":"g2","x":59.1,"y":0.346},{"series":"dynconfpreneg*","line":"g2","x":59.4,"y":0.25},{"series":"dynconfpreneg*","line":"g2","x":59.7,"y":0.1},{"series":"dynconfpreneg*","line":"g2","x":60,"y":0.0},{"series":"dynconfpreneg*","line":"g2","x":60.4,"y":0.1},{"series":"dynconfpreneg*","line":"g2","x":60.8,"y":0.25},{"series":"dynconfpreneg*","line":"g2","x":61.2,"y":0.3},{"series":"dynconfpreneg*","line":"g2","x":61.5,"y":0.26},{"series":"dynconfpreneg*","line":"g2","x":62.1,"y":0.228},{"series":"dynconfpreneg*","line":"g2","x":62.9,"y":0.26},{"series":"dynconfpreneg*","line":"g2","x":64,"y":0.283},
      {"series":"mismatch*","line":"g3","x":1,"y":0.55},{"series":"mismatch*","line":"g3","x":1.5,"y":0.45},{"series":"mismatch*","line":"g3","x":2,"y":0.4},{"series":"mismatch*","line":"g3","x":3,"y":0.45},{"series":"mismatch*","line":"g3","x":4.4,"y":0.47},{"series":"mismatch*","line":"g3","x":5.2,"y":0.431},{"series":"mismatch*","line":"g3","x":6.8,"y":0.398},{"series":"mismatch*","line":"g3","x":7.7,"y":0.366},{"series":"mismatch*","line":"g3","x":9,"y":0.345},{"series":"mismatch*","line":"g3","x":10.4,"y":0.322},{"series":"mismatch*","line":"g3","x":11.7,"y":0.29},{"series":"mismatch*","line":"g3","x":13.1,"y":0.26},{"series":"mismatch*","line":"g3","x":14.5,"y":0.234},{"series":"mismatch*","line":"g3","x":15.8,"y":0.211},{"series":"mismatch*","line":"g3","x":17.2,"y":0.195},{"series":"mismatch*","line":"g3","x":18.5,"y":0.175},{"series":"mismatch*","line":"g3","x":19.8,"y":0.165},{"series":"mismatch*","line":"g3","x":20.4,"y":0.15},{"series":"mismatch*","line":"g3","x":21.5,"y":0.146},{"series":"mismatch*","line":"g3","x":22.6,"y":0.142},{"series":"mismatch*","line":"g3","x":23.4,"y":0.146},{"series":"mismatch*","line":"g3","x":24.8,"y":0.122},{"series":"mismatch*","line":"g3","x":26.2,"y":0.112},{"series":"mismatch*","line":"g3","x":27,"y":0.122},{"series":"mismatch*","line":"g3","x":28,"y":0.106},{"series":"mismatch*","line":"g3","x":29.1,"y":0.124},{"series":"mismatch*","line":"g3","x":30.2,"y":0.122},{"series":"mismatch*","line":"g3","x":31,"y":0.106},{"series":"mismatch*","line":"g3","x":32.1,"y":0.112},{"series":"mismatch*","line":"g3","x":32.9,"y":0.146},{"series":"mismatch*","line":"g3","x":34,"y":0.11},{"series":"mismatch*","line":"g3","x":35.6,"y":0.106},{"series":"mismatch*","line":"g3","x":36.7,"y":0.106},{"series":"mismatch*","line":"g3","x":37.8,"y":0.12},{"series":"mismatch*","line":"g3","x":39.1,"y":0.087},{"series":"mismatch*","line":"g3","x":40.2,"y":0.096},{"series":"mismatch*","line":"g3","x":41.3,"y":0.083},{"series":"mismatch*","line":"g3","x":42.4,"y":0.1},{"series":"mismatch*","line":"g3","x":43.2,"y":0.091},{"series":"mismatch*","line":"g3","x":44,"y":0.063},{"series":"mismatch*","line":"g3","x":44.8,"y":0.051},{"series":"mismatch*","line":"g3","x":45.3,"y":0.057},{"series":"mismatch*","line":"g3","x":46.1,"y":0.136},{"series":"mismatch*","line":"g3","x":46.7,"y":0.136},{"series":"mismatch*","line":"g3","x":47.8,"y":0.116},{"series":"mismatch*","line":"g3","x":48.9,"y":0.051},{"series":"mismatch*","line":"g3","x":50.2,"y":0.077},{"series":"mismatch*","line":"g3","x":52.1,"y":0.031},{"series":"mismatch*","line":"g3","x":53.2,"y":0.057},{"series":"mismatch*","line":"g3","x":54.2,"y":0.041},{"series":"mismatch*","line":"g3","x":55.4,"y":0.051},{"series":"mismatch*","line":"g3","x":56.2,"y":0.063},{"series":"mismatch*","line":"g3","x":57.1,"y":0.106},{"series":"mismatch*","line":"g3","x":58.1,"y":0.057},{"series":"mismatch*","line":"g3","x":58.9,"y":0.002},{"series":"mismatch*","line":"g3","x":59.4,"y":0.06},{"series":"mismatch*","line":"g3","x":59.9,"y":0.2},{"series":"mismatch*","line":"g3","x":60.3,"y":0.33},{"series":"mismatch*","line":"g3","x":60.7,"y":0.2},{"series":"mismatch*","line":"g3","x":61.1,"y":0.06},{"series":"mismatch*","line":"g3","x":61.5,"y":0.03},{"series":"mismatch*","line":"g3","x":62.1,"y":0.05},{"series":"mismatch*","line":"g3","x":62.9,"y":0.083},{"series":"mismatch*","line":"g3","x":63.2,"y":0.09},{"series":"mismatch*","line":"g3","x":64,"y":0.018},
      {"series":"dynconfpreneg*","line":"g4","x":1,"y":0.33},{"series":"dynconfpreneg*","line":"g4","x":1.5,"y":0.293},{"series":"dynconfpreneg*","line":"g4","x":2,"y":0.205},{"series":"dynconfpreneg*","line":"g4","x":2.5,"y":0.234},{"series":"dynconfpreneg*","line":"g4","x":3.1,"y":0.254},{"series":"dynconfpreneg*","line":"g4","x":3.6,"y":0.248},{"series":"dynconfpreneg*","line":"g4","x":4.4,"y":0.234},{"series":"dynconfpreneg*","line":"g4","x":5.2,"y":0.228},{"series":"dynconfpreneg*","line":"g4","x":6,"y":0.24},{"series":"dynconfpreneg*","line":"g4","x":6.8,"y":0.248},{"series":"dynconfpreneg*","line":"g4","x":7.7,"y":0.24},{"series":"dynconfpreneg*","line":"g4","x":8.2,"y":0.248},{"series":"dynconfpreneg*","line":"g4","x":9,"y":0.268},{"series":"dynconfpreneg*","line":"g4","x":10,"y":0.25},{"series":"dynconfpreneg*","line":"g4","x":11,"y":0.26},{"series":"dynconfpreneg*","line":"g4","x":12,"y":0.27},{"series":"dynconfpreneg*","line":"g4","x":13,"y":0.25},{"series":"dynconfpreneg*","line":"g4","x":14,"y":0.22},{"series":"dynconfpreneg*","line":"g4","x":15,"y":0.2},{"series":"dynconfpreneg*","line":"g4","x":16,"y":0.175},{"series":"dynconfpreneg*","line":"g4","x":17.2,"y":0.15},{"series":"dynconfpreneg*","line":"g4","x":18.5,"y":0.136},{"series":"dynconfpreneg*","line":"g4","x":19.8,"y":0.122},{"series":"dynconfpreneg*","line":"g4","x":21,"y":0.083},{"series":"dynconfpreneg*","line":"g4","x":21.8,"y":0.077},{"series":"dynconfpreneg*","line":"g4","x":22.6,"y":0.083},{"series":"dynconfpreneg*","line":"g4","x":23.6,"y":0.11},{"series":"dynconfpreneg*","line":"g4","x":24.7,"y":0.091},{"series":"dynconfpreneg*","line":"g4","x":25.8,"y":0.065},{"series":"dynconfpreneg*","line":"g4","x":27,"y":0.073},{"series":"dynconfpreneg*","line":"g4","x":28,"y":0.057},{"series":"dynconfpreneg*","line":"g4","x":29.1,"y":0.069},{"series":"dynconfpreneg*","line":"g4","x":30.2,"y":0.067},{"series":"dynconfpreneg*","line":"g4","x":31.3,"y":0.063},{"series":"dynconfpreneg*","line":"g4","x":32.9,"y":0.087},{"series":"dynconfpreneg*","line":"g4","x":34,"y":0.057},{"series":"dynconfpreneg*","line":"g4","x":36.1,"y":0.033},{"series":"dynconfpreneg*","line":"g4","x":37.8,"y":0.053},{"series":"dynconfpreneg*","line":"g4","x":39.1,"y":0.047},{"series":"dynconfpreneg*","line":"g4","x":41,"y":0.037},{"series":"dynconfpreneg*","line":"g4","x":42.4,"y":0.051},{"series":"dynconfpreneg*","line":"g4","x":43.2,"y":0.037},{"series":"dynconfpreneg*","line":"g4","x":44,"y":0.004},{"series":"dynconfpreneg*","line":"g4","x":44.8,"y":0},{"series":"dynconfpreneg*","line":"g4","x":45.6,"y":0.018},{"series":"dynconfpreneg*","line":"g4","x":46.5,"y":0.071},{"series":"dynconfpreneg*","line":"g4","x":47.3,"y":0.102},{"series":"dynconfpreneg*","line":"g4","x":48.1,"y":0.057},{"series":"dynconfpreneg*","line":"g4","x":48.9,"y":0.004},{"series":"dynconfpreneg*","line":"g4","x":50.2,"y":0.018},{"series":"dynconfpreneg*","line":"g4","x":51.3,"y":0.002},{"series":"dynconfpreneg*","line":"g4","x":52.1,"y":0.002},{"series":"dynconfpreneg*","line":"g4","x":53.2,"y":0.008},{"series":"dynconfpreneg*","line":"g4","x":54.2,"y":0.002},{"series":"dynconfpreneg*","line":"g4","x":55.4,"y":0},{"series":"dynconfpreneg*","line":"g4","x":56.2,"y":0.012},{"series":"dynconfpreneg*","line":"g4","x":57.1,"y":0.053},{"series":"dynconfpreneg*","line":"g4","x":58.1,"y":0.002},{"series":"dynconfpreneg*","line":"g4","x":59,"y":0},{"series":"dynconfpreneg*","line":"g4","x":59.4,"y":0.071},{"series":"dynconfpreneg*","line":"g4","x":59.9,"y":0.209},{"series":"dynconfpreneg*","line":"g4","x":60.5,"y":0.327},{"series":"dynconfpreneg*","line":"g4","x":61,"y":0.2},{"series":"dynconfpreneg*","line":"g4","x":61.5,"y":0.05},{"series":"dynconfpreneg*","line":"g4","x":62,"y":0.018},{"series":"dynconfpreneg*","line":"g4","x":63,"y":0.004},{"series":"dynconfpreneg*","line":"g4","x":64,"y":0}
    ]
  },
  "layer": [
    {
      "data": {"name": "dots"},
      "mark": {"type": "line", "strokeDash": [1.2, 2.4], "strokeWidth": 1.2, "opacity": 0.75, "clip": true},
      "encoding": {
        "x": {"field": "x", "type": "quantitative", "scale": {"domain": [1, 70], "nice": false, "zero": false}, "axis": null},
        "y": {"field": "y", "type": "quantitative", "scale": {"domain": [-0.05, 1.05], "nice": false, "zero": false}, "axis": null},
        "color": {"field": "series", "type": "nominal", "title": null, "scale": {"domain": ["match*", "mismatch*", "posconf", "negconf", "confsep", "dynconfsuppos*", "dynconfpreneg*"], "range": ["#f08a43", "#a9bf7a", "#5c9bd6", "#4a5db5", "#8673b0", "#f08a43", "#a9bf7a"]}},
        "detail": {"field": "line", "type": "nominal"}
      }
    },
    {
      "data": {"name": "main"},
      "mark": {"type": "line", "interpolate": "basis", "strokeWidth": 1.4, "clip": true},
      "encoding": {
        "x": {"field": "x", "type": "quantitative", "axis": {"orient": "bottom", "title": "Size of training set", "titleFontSize": 18, "titleFontWeight": "normal", "titlePadding": 4, "titleX": 412, "titleAlign": "center", "values": [10, 20, 30, 40, 50, 60, 70], "labelFontSize": 15, "tickSize": -6, "labelPadding": 8, "grid": false}},
        "y": {"field": "y", "type": "quantitative", "axis": {"orient": "left", "title": null, "values": [0, 0.2, 0.4, 0.6, 0.8, 1.0], "format": ".1f", "labelFontSize": 15, "tickSize": -6, "labelPadding": 14, "grid": true, "gridColor": "#e8e8e8", "gridWidth": 1}},
        "color": {"field": "series", "type": "nominal", "title": null, "legend": {"orient": "none", "legendX": 9, "legendY": 7, "fillColor": "white", "strokeColor": "black", "padding": 2, "symbolOffset": 8, "labelFont": "DejaVu Serif", "labelFontSize": 15, "labelColor": "black", "symbolType": "stroke", "symbolSize": 650, "symbolStrokeWidth": 1.5, "labelOffset": 19, "rowPadding": 3.8, "labelLimit": 300}},
        "strokeDash": {"field": "series", "type": "nominal", "title": null, "scale": {"domain": ["match*", "mismatch*", "posconf", "negconf", "confsep", "dynconfsuppos*", "dynconfpreneg*"], "range": [[1, 0], [1, 0], [1, 0], [1, 0], [1, 0], [7, 5], [7, 5]]}}
      }
    },
    {
      "data": {"name": "main"},
      "mark": {"type": "point", "opacity": 0},
      "encoding": {
        "x": {"field": "x", "type": "quantitative", "axis": {"orient": "top", "title": null, "values": [10, 20, 30, 40, 50, 60, 70], "labels": false, "tickSize": -6, "grid": false}},
        "y": {"field": "y", "type": "quantitative", "axis": {"orient": "right", "title": null, "values": [0, 0.2, 0.4, 0.6, 0.8, 1.0], "labels": false, "tickSize": -6, "grid": false}}
      }
    }
  ],
  "resolve": {"axis": {"x": "independent", "y": "independent"}}
}
